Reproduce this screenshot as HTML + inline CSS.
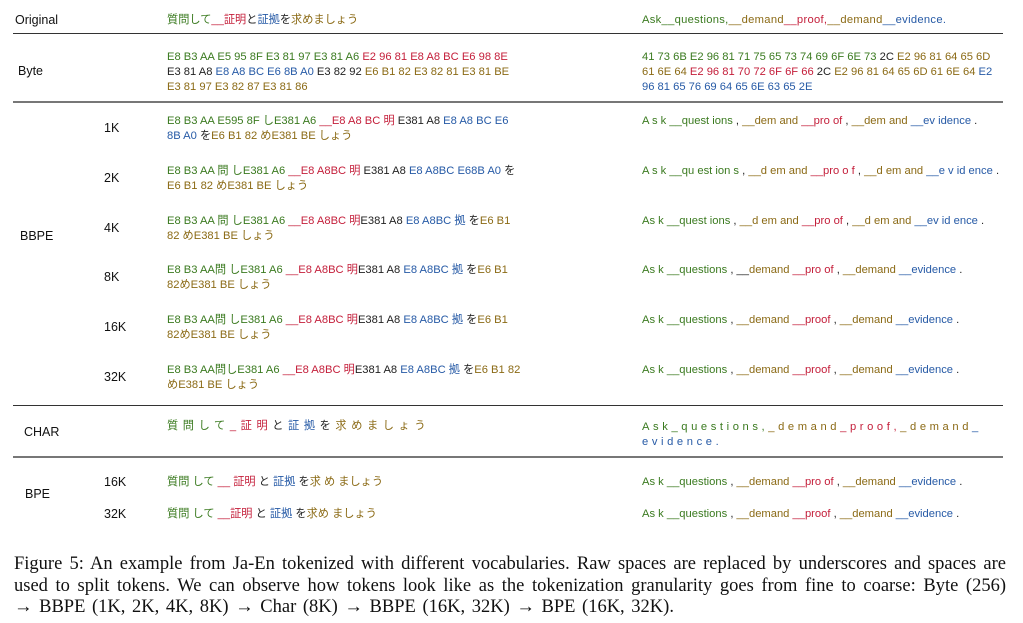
<!DOCTYPE html>
<html><head><meta charset="utf-8"><style>
body{margin:0;background:#fff;width:1023px;height:623px;position:relative;overflow:hidden;font-family:"Liberation Sans","Noto Sans CJK JP",sans-serif;color:#222}
.t{position:absolute;font-size:11.2px;line-height:15px;white-space:nowrap}
.l{position:absolute;font-size:12.5px;line-height:15px;color:#111}
.g{color:#3a7a1f}.r{color:#c41e3a}.b{color:#265aa6}.o{color:#8b6a15}.k{color:#222}
.hr{position:absolute;left:13px;width:990px;height:1px;background:#333}
.cap{position:absolute;left:14px;width:992px;font-family:"Liberation Serif",serif;font-size:18.5px;line-height:21.5px;color:#111;white-space:nowrap}
.j{text-align:justify;text-align-last:justify;white-space:normal}
</style></head><body>
<div class="l" style="left:15px;top:13px">Original</div>
<div class="t" style="left:167px;top:13px"><span class="g">質問して</span><span class="r">__証明</span><span class="k">と</span><span class="b">証拠</span><span class="k">を</span><span class="o">求めましょう</span></div>
<div class="t" style="left:642px;top:13px;letter-spacing:0.3px"><span class="g">Ask__questions,</span><span class="o">__demand</span><span class="r">__proof,</span><span class="o">__demand</span><span class="b">__evidence.</span></div>
<div class="hr" style="top:33px"></div>

<div class="l" style="left:18px;top:64px">Byte</div>
<div class="t" style="left:167px;top:50px"><span class="g">E8 B3 AA E5 95 8F E3 81 97 E3 81 A6</span> <span class="r">E2 96 81 E8 A8 BC E6 98 8E</span><br><span class="k">E3 81 A8</span> <span class="b">E8 A8 BC E6 8B A0</span> <span class="k">E3 82 92</span> <span class="o">E6 B1 82 E3 82 81 E3 81 BE</span><br><span class="o">E3 81 97 E3 82 87 E3 81 86</span></div>
<div class="t" style="left:642px;top:50px"><span class="g">41 73 6B E2 96 81 71 75 65 73 74 69 6F 6E 73</span> <span class="k">2C</span> <span class="o">E2 96 81 64 65 6D</span><br><span class="o">61 6E 64</span> <span class="r">E2 96 81 70 72 6F 6F 66</span> <span class="k">2C</span> <span class="o">E2 96 81 64 65 6D 61 6E 64</span> <span class="b">E2</span><br><span class="b">96 81 65 76 69 64 65 6E 63 65 2E</span></div>
<div class="hr" style="top:101px;background:#777;height:1.5px"></div>

<div class="l" style="left:20px;top:229px">BBPE</div>
<div class="l" style="left:104px;top:121px">1K</div>
<div class="t" style="left:167px;top:114px"><span class="g">E8 B3 AA E595 8F しE381 A6</span> <span class="r">__E8 A8 BC 明</span> <span class="k">E381 A8</span> <span class="b">E8 A8 BC E6<br>8B A0</span> <span class="k">を</span><span class="o">E6 B1 82 めE381 BE しょう</span></div>
<div class="t" style="left:642px;top:114px"><span class="g">A s k __quest ions</span> <span class="k">,</span> <span class="o">__dem and</span> <span class="r">__pro of</span> <span class="k">,</span> <span class="o">__dem and</span> <span class="b">__ev idence</span> <span class="k">.</span></div>

<div class="l" style="left:104px;top:171px">2K</div>
<div class="t" style="left:167px;top:164px"><span class="g">E8 B3 AA 問 しE381 A6</span> <span class="r">__E8 A8BC 明</span> <span class="k">E381 A8</span> <span class="b">E8 A8BC E68B A0</span> <span class="k">を</span><br><span class="o">E6 B1 82 めE381 BE しょう</span></div>
<div class="t" style="left:642px;top:164px"><span class="g">A s k __qu est ion s</span> <span class="k">,</span> <span class="o">__d em and</span> <span class="r">__pro o f</span> <span class="k">,</span> <span class="o">__d em and</span> <span class="b">__e v id ence</span> <span class="k">.</span></div>

<div class="l" style="left:104px;top:221px">4K</div>
<div class="t" style="left:167px;top:214px"><span class="g">E8 B3 AA 問 しE381 A6</span> <span class="r">__E8 A8BC 明</span><span class="k">E381 A8</span> <span class="b">E8 A8BC 拠</span> <span class="k">を</span><span class="o">E6 B1<br>82 めE381 BE しょう</span></div>
<div class="t" style="left:642px;top:214px"><span class="g">As k __quest ions</span> <span class="k">,</span> <span class="o">__d em and</span> <span class="r">__pro of</span> <span class="k">,</span> <span class="o">__d em and</span> <span class="b">__ev id ence</span> <span class="k">.</span></div>

<div class="l" style="left:104px;top:270px">8K</div>
<div class="t" style="left:167px;top:263px"><span class="g">E8 B3 AA問 しE381 A6</span> <span class="r">__E8 A8BC 明</span><span class="k">E381 A8</span> <span class="b">E8 A8BC 拠</span> <span class="k">を</span><span class="o">E6 B1<br>82めE381 BE しょう</span></div>
<div class="t" style="left:642px;top:263px"><span class="g">As k __questions</span> <span class="k">, __</span><span class="o">demand</span> <span class="r">__pro of</span> <span class="k">,</span> <span class="o">__demand</span> <span class="b">__evidence</span> <span class="k">.</span></div>

<div class="l" style="left:104px;top:320px">16K</div>
<div class="t" style="left:167px;top:313px"><span class="g">E8 B3 AA問 しE381 A6</span> <span class="r">__E8 A8BC 明</span><span class="k">E381 A8</span> <span class="b">E8 A8BC 拠</span> <span class="k">を</span><span class="o">E6 B1<br>82めE381 BE しょう</span></div>
<div class="t" style="left:642px;top:313px"><span class="g">As k __questions</span> <span class="k">,</span> <span class="o">__demand</span> <span class="r">__proof</span> <span class="k">,</span> <span class="o">__demand</span> <span class="b">__evidence</span> <span class="k">.</span></div>

<div class="l" style="left:104px;top:370px">32K</div>
<div class="t" style="left:167px;top:363px"><span class="g">E8 B3 AA問しE381 A6</span> <span class="r">__E8 A8BC 明</span><span class="k">E381 A8</span> <span class="b">E8 A8BC 拠</span> <span class="k">を</span><span class="o">E6 B1 82<br>めE381 BE しょう</span></div>
<div class="t" style="left:642px;top:363px"><span class="g">As k __questions</span> <span class="k">,</span> <span class="o">__demand</span> <span class="r">__proof</span> <span class="k">,</span> <span class="o">__demand</span> <span class="b">__evidence</span> <span class="k">.</span></div>
<div class="hr" style="top:405px"></div>

<div class="l" style="left:24px;top:425px">CHAR</div>
<div class="t" style="left:167px;top:419px;letter-spacing:4.6px"><span class="g">質問して</span><span class="r">_証明</span><span class="k">と</span><span class="b">証拠</span><span class="k">を</span><span class="o">求めましょう</span></div>
<div class="t" style="left:642px;top:420px;letter-spacing:3.6px"><span class="g">Ask_questions,</span><span class="o">_demand</span><span class="r">_proof,</span><span class="o">_demand</span><span class="b">_<br>evidence.</span></div>
<div class="hr" style="top:456px;background:#777;height:1.5px"></div>

<div class="l" style="left:25px;top:487px">BPE</div>
<div class="l" style="left:104px;top:475px">16K</div>
<div class="t" style="left:167px;top:475px"><span class="g">質問 して</span> <span class="r">__ 証明</span> <span class="k">と</span> <span class="b">証拠</span> <span class="k">を</span><span class="o">求 め ましょう</span></div>
<div class="t" style="left:642px;top:475px"><span class="g">As k __questions</span> <span class="k">,</span> <span class="o">__demand</span> <span class="r">__pro of</span> <span class="k">,</span> <span class="o">__demand</span> <span class="b">__evidence</span> <span class="k">.</span></div>
<div class="l" style="left:104px;top:507px">32K</div>
<div class="t" style="left:167px;top:507px"><span class="g">質問 して</span> <span class="r">__証明</span> <span class="k">と</span> <span class="b">証拠</span> <span class="k">を</span><span class="o">求め ましょう</span></div>
<div class="t" style="left:642px;top:507px"><span class="g">As k __questions</span> <span class="k">,</span> <span class="o">__demand</span> <span class="r">__proof</span> <span class="k">,</span> <span class="o">__demand</span> <span class="b">__evidence</span> <span class="k">.</span></div>

<div class="cap j" style="top:554px">Figure 5: An example from Ja-En tokenized with different vocabularies. Raw spaces are replaced by underscores and spaces are</div>
<div class="cap j" style="top:576px">used to split tokens. We can observe how tokens look like as the tokenization granularity goes from fine to coarse: Byte (256)</div>
<div class="cap" style="top:597px;word-spacing:2px">→ BBPE (1K, 2K, 4K, 8K) → Char (8K) → BBPE (16K, 32K) → BPE (16K, 32K).</div>
</body></html>
